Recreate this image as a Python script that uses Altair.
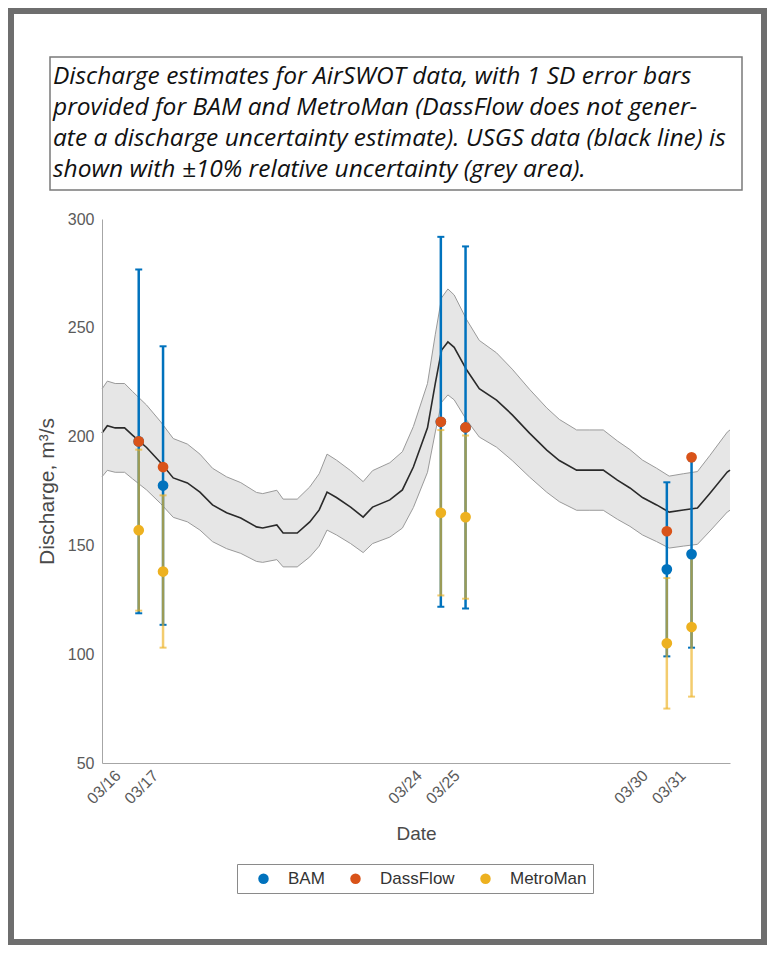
import altair as alt
import pandas as pd

# ---------------- data ----------------
usgs_time = [
    "2015-03-15 17:36", "2015-03-15 21:00", "2015-03-16 02:00", "2015-03-16 08:00",
    "2015-03-16 13:00", "2015-03-16 22:00", "2015-03-17 07:00", "2015-03-17 15:00",
    "2015-03-18 00:00", "2015-03-18 08:00", "2015-03-18 16:00", "2015-03-19 01:00",
    "2015-03-19 10:00", "2015-03-19 20:00", "2015-03-20 00:00", "2015-03-20 09:00",
    "2015-03-20 13:00", "2015-03-20 22:00", "2015-03-21 06:00", "2015-03-21 12:00",
    "2015-03-21 17:00", "2015-03-21 23:00", "2015-03-22 08:00", "2015-03-22 16:00",
    "2015-03-22 22:00", "2015-03-23 09:00", "2015-03-23 17:00", "2015-03-24 00:00",
    "2015-03-24 09:00", "2015-03-24 14:00", "2015-03-24 18:00", "2015-03-24 22:00",
    "2015-03-25 02:00", "2015-03-25 10:00", "2015-03-25 18:00", "2015-03-26 05:00",
    "2015-03-26 15:00", "2015-03-27 02:00", "2015-03-27 13:00", "2015-03-27 21:00",
    "2015-03-28 08:00", "2015-03-28 16:00", "2015-03-29 01:00", "2015-03-29 10:00",
    "2015-03-29 18:00", "2015-03-30 02:00", "2015-03-30 11:00", "2015-03-30 19:00",
    "2015-03-31 04:00", "2015-03-31 13:00", "2015-03-31 21:00", "2015-04-01 08:00",
    "2015-04-01 09:45",
]
usgs_q = [
    201.7, 205.0, 204.0, 204.0,
    200.7, 195.0, 188.0, 181.0,
    178.7, 174.5, 168.6, 165.0,
    162.6, 158.5, 158.0, 159.4,
    155.7, 155.7, 160.8, 166.3,
    174.5, 172.0, 167.6, 163.0,
    167.6, 170.9, 175.5, 186.0,
    204.0, 224.6, 239.8, 243.5,
    241.0, 230.6, 222.0, 216.8,
    210.0, 201.6, 193.8, 189.0,
    184.6, 184.6, 184.6, 180.0,
    176.4, 172.0, 168.6, 165.3,
    166.3, 167.2, 174.0, 183.7,
    184.6,
]

obs_time = ["2015-03-16 17:00", "2015-03-17 08:30", "2015-03-24 17:30",
            "2015-03-25 09:15", "2015-03-30 17:30", "2015-03-31 09:15"]
bam_q = [197.8, 177.5, 206.8, 204.2, 139.0, 146.0]
bam_sd = [79.0, 64.0, 85.0, 83.2, 40.0, 43.0]
dass_q = [197.8, 186.0, 206.8, 204.2, 156.5, 190.5]
metro_q = [157.0, 138.0, 165.0, 163.0, 105.0, 112.5]
metro_sd = [37.0, 35.0, 38.0, 37.5, 30.0, 32.0]

series_names = ["BAM", "DassFlow", "MetroMan"]
series_colors = ["#0072BD", "#D95319", "#EDB120"]

tick_dates = ["2015-03-16", "2015-03-17", "2015-03-24", "2015-03-25", "2015-03-30", "2015-03-31"]
x_domain = ["2015-03-15 17:36", "2015-04-01 09:45"]
y_ticks = [50, 100, 150, 200, 250, 300]

caption_lines = [
    "Discharge estimates for AirSWOT data, with 1 SD error bars",
    "provided for BAM and MetroMan (DassFlow does not gener-",
    "ate a discharge uncertainty estimate). USGS data (black line) is",
    "shown with \u00b110% relative uncertainty (grey area).",
]

# ---------------- tables ----------------
usgs = pd.DataFrame({"time": pd.to_datetime(usgs_time), "q": usgs_q})

ot = pd.to_datetime(obs_time)
bam = pd.DataFrame({"time": ot, "series": "BAM", "q": bam_q, "sd": bam_sd})
dass = pd.DataFrame({"time": ot, "series": "DassFlow", "q": dass_q})
metro = pd.DataFrame({"time": ot, "series": "MetroMan", "q": metro_q, "sd": metro_sd})
for d in (bam, metro):
    d["lo"] = d["q"] - d["sd"]
    d["hi"] = d["q"] + d["sd"]
points = pd.concat([bam[["time", "series", "q"]], dass, metro[["time", "series", "q"]]],
                   ignore_index=True)

one = pd.DataFrame({"a": [0]})


def dt(s):
    t = pd.Timestamp(s)
    return alt.DateTime(year=t.year, month=t.month, date=t.day, hours=t.hour, minutes=t.minute)


xscale = alt.Scale(domain=[dt(s) for s in x_domain])
yscale = alt.Scale(domain=[50, 300], nice=False)

AX_FONT = "Liberation Sans"
xaxis = alt.Axis(values=[dt(s) for s in tick_dates], format="%m/%d", labelAngle=315,
                 labelAlign="right", labelBaseline="top", labelPadding=4, labelOverlap=False,
                 ticks=False, grid=False, domainColor="#a6a6a6", labelColor="#5a5a5a",
                 labelFont=AX_FONT, labelFontSize=16, titleFont=AX_FONT, titleFontSize=19,
                 titleFontWeight="normal", titleColor="#4a4a4a", titlePadding=18, zindex=1)
yaxis = alt.Axis(values=y_ticks, ticks=False, labelPadding=8, grid=False, domainColor="#a6a6a6",
                 labelColor="#5a5a5a", labelFont=AX_FONT, labelFontSize=16, titleFont=AX_FONT,
                 titleFontSize=21, titleFontWeight="normal", titleColor="#4a4a4a", titlePadding=10,
                 zindex=1)


def X(field):
    return alt.X(field, type="temporal", scale=xscale, axis=xaxis, title="Date")


def Y(field):
    return alt.Y(field, type="quantitative", scale=yscale, axis=yaxis, title="Discharge, m\u00b3/s")


# ---------------- decoration: frame and caption ----------------
frame_outer = alt.Chart(one).mark_rect(color="#6e6e6e").encode(
    x=alt.value(-94), x2=alt.value(665), y=alt.value(-211), y2=alt.value(726))
frame_inner = alt.Chart(one).mark_rect(color="white").encode(
    x=alt.value(-88), x2=alt.value(659), y=alt.value(-205), y2=alt.value(720))
caption_box = alt.Chart(one).mark_rect(fill="white", stroke="#7a7a7a", strokeWidth=1.5).encode(
    x=alt.value(-52), x2=alt.value(640), y=alt.value(-162), y2=alt.value(-29))
caption = alt.Chart(one).mark_text(
    text=caption_lines, align="left", baseline="top", font="Open Sans", fontStyle="italic",
    fontSize=24.5, lineHeight=31, color="#111111").encode(x=alt.value(-49), y=alt.value(-154))

# ---------------- USGS ----------------
band = alt.Chart(usgs).transform_calculate(
    lo="datum.q * 0.9", hi="datum.q * 1.1").mark_area(color="#e6e6e6").encode(
    x=X("time"), y=Y("lo:Q"), y2="hi:Q")
band_lo = alt.Chart(usgs).transform_calculate(v="datum.q * 0.9").mark_line(
    color="#9a9a9a", strokeWidth=1).encode(x=X("time"), y=Y("v:Q"))
band_hi = alt.Chart(usgs).transform_calculate(v="datum.q * 1.1").mark_line(
    color="#9a9a9a", strokeWidth=1).encode(x=X("time"), y=Y("v:Q"))
usgs_line = alt.Chart(usgs).mark_line(color="#2a2a2a", strokeWidth=1.6).encode(
    x=X("time"), y=Y("q:Q"))

# ---------------- error bars ----------------
def bars(df, color, opacity):
    rule = alt.Chart(df).mark_rule(color=color, strokeWidth=2.5, opacity=opacity).encode(
        x=X("time"), y=Y("lo:Q"), y2="hi:Q")
    caps = alt.Chart(df).transform_fold(["lo", "hi"], as_=["end", "v"]).mark_tick(
        color=color, orient="horizontal", size=7, thickness=2, opacity=opacity).encode(
        x=X("time"), y=Y("v:Q"))
    return rule + caps


bam_bars = bars(bam, series_colors[0], 1.0)
metro_bars = bars(metro, series_colors[2], 0.65)

pts = alt.Chart(points).mark_circle(size=115, opacity=1).encode(
    x=X("time"), y=Y("q:Q"),
    color=alt.Color("series:N", sort=series_names,
                    scale=alt.Scale(domain=series_names, range=series_colors),
                    legend=alt.Legend(title=None, orient="none", legendX=135, legendY=645,
                                      direction="horizontal", strokeColor="#8a8a8a",
                                      fillColor="white", padding=6, symbolOffset=12,
                                      symbolType="circle", symbolSize=110, labelFont=AX_FONT,
                                      labelFontSize=17, labelColor="#333333", labelOffset=16,
                                      columnPadding=10)))

chart = alt.layer(
    frame_outer, frame_inner, caption_box, caption,
    band, band_lo, band_hi, usgs_line,
    bam_bars, metro_bars, pts,
).properties(width=628, height=544, padding=0, background="white").configure_view(strokeWidth=0)

chart.save("out.html", embed_options={"renderer": "svg", "actions": False})
